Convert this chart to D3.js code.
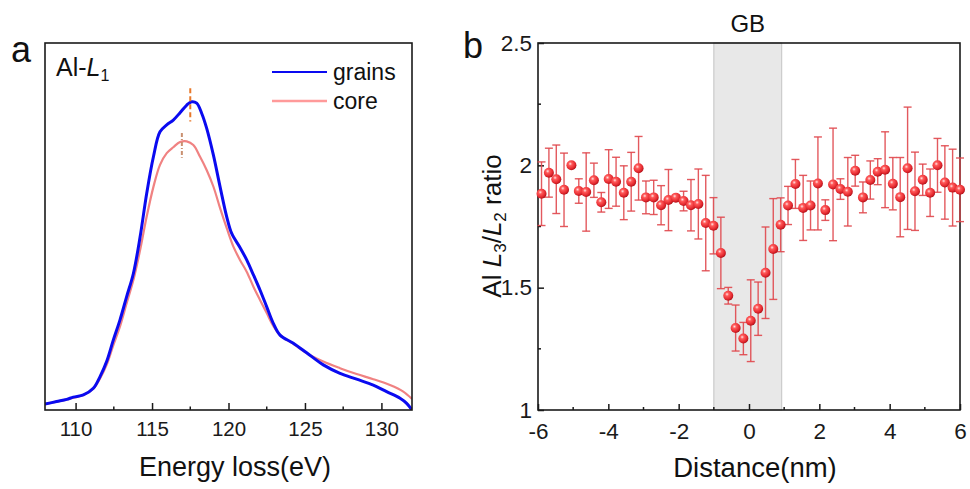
<!DOCTYPE html>
<html><head><meta charset="utf-8">
<script src="https://cdn.jsdelivr.net/npm/d3@7"></script>
<style>
html,body{margin:0;padding:0;background:#fff;}
svg{display:block;font-family:"Liberation Sans",Arial,Helvetica,sans-serif;}
</style></head>
<body>
<svg id="chart" width="970" height="489"></svg>
<script>
// ---------- Panel a data: Al-L1 edge spectra ----------
const grainsE = [108.0,108.76,109.42,109.85,110.51,111.16,111.60,112.03,112.47,112.90,113.34,113.78,114.22,114.65,115.09,115.52,115.96,116.39,116.83,117.27,117.59,117.92,118.25,118.57,119.01,119.45,119.88,120.21,120.75,121.19,121.63,122.06,122.50,122.93,123.37,124.24,125.11,126.20,127.29,128.38,129.47,130.34,131.22,131.65,132.0];
const grainsI = [0.016,0.023,0.029,0.035,0.041,0.059,0.091,0.132,0.191,0.245,0.309,0.372,0.472,0.590,0.690,0.758,0.777,0.790,0.810,0.831,0.840,0.836,0.808,0.768,0.695,0.608,0.527,0.481,0.443,0.409,0.368,0.327,0.281,0.236,0.204,0.182,0.156,0.123,0.100,0.084,0.068,0.050,0.032,0.018,0.0];
const coreE = [108.0,109.42,110.51,111.16,111.60,112.03,112.47,112.90,113.34,113.78,114.22,114.65,115.09,115.52,115.96,116.39,116.83,117.27,117.70,118.14,118.57,119.01,119.45,119.88,120.32,120.75,121.19,121.63,122.06,122.50,122.93,123.37,124.24,125.11,126.20,127.29,128.38,129.47,130.56,131.43,132.0];
const coreI = [0.016,0.029,0.041,0.058,0.086,0.123,0.177,0.227,0.291,0.354,0.436,0.527,0.608,0.668,0.700,0.716,0.730,0.732,0.722,0.690,0.654,0.609,0.550,0.496,0.445,0.409,0.377,0.336,0.300,0.264,0.229,0.204,0.180,0.155,0.132,0.114,0.098,0.084,0.068,0.050,0.030];
const peakE = [117.5, 116.95];
const peakTop = [0.877, 0.755];
const peakBottom = [0.786, 0.687];
const peakColors = ["#e8782a", "#c99070"];
const energyTicks = [110, 115, 120, 125, 130];
const energyMinor = [112.5, 117.5, 122.5, 127.5];
const seriesNames = ["grains", "core"];
const seriesColors = ["#0a0af0", "#f08282"];

// ---------- Panel b data: Al L3/L2 ratio ----------
const distance = [-5.9,-5.69,-5.48,-5.26,-5.05,-4.84,-4.63,-4.41,-4.2,-3.99,-3.78,-3.56,-3.35,-3.14,-2.93,-2.71,-2.5,-2.29,-2.08,-1.86,-1.65,-1.44,-1.23,-1.01,-0.8,-0.59,-0.38,-0.16,0.05,0.26,0.47,0.69,0.9,1.11,1.32,1.54,1.75,1.96,2.17,2.39,2.6,2.81,3.02,3.24,3.45,3.66,3.87,4.09,4.3,4.51,4.72,4.94,5.15,5.36,5.57,5.79,6.0];
const ratio = [1.884,1.970,1.943,1.900,2.000,1.895,1.891,1.939,1.849,1.944,1.933,1.888,1.933,1.988,1.869,1.869,1.837,1.858,1.868,1.854,1.837,1.842,1.764,1.753,1.642,1.467,1.335,1.292,1.365,1.414,1.561,1.658,1.757,1.836,1.924,1.826,1.836,1.926,1.817,1.922,1.903,1.892,1.978,1.869,1.940,1.974,1.982,1.925,1.870,1.988,1.894,1.941,1.888,2.000,1.930,1.909,1.900];
const ratioErr = [0.13,0.10,0.14,0.15,0.008,0.05,0.16,0.07,0.04,0.12,0.10,0.11,0.12,0.13,0.067,0.07,0.08,0.125,0.01,0.04,0.105,0.143,0.195,0.115,0.146,0.034,0.094,0.066,0.167,0.109,0.187,0.206,0.11,0.078,0.10,0.133,0.10,0.19,0.042,0.23,0.042,0.14,0.063,0.063,0.078,0.053,0.155,0.107,0.162,0.25,0.16,0.064,0.097,0.11,0.15,0.157,0.13];
const distTicks = [-6, -4, -2, 0, 2, 4, 6];
const distMinor = [-5, -3, -1, 1, 3, 5];
const ratioTicks = [1, 1.5, 2, 2.5];
const ratioMinor = [1.25, 1.75, 2.25];
const gbRange = [-1, 0.93];

const svg = d3.select("#chart");
const AX = "#1a1a1a";
const FONT = "Liberation Sans, Arial, sans-serif";

// ================= Panel a =================
const ax = {l:45, r:412, t:43, b:410};
const xA = d3.scaleLinear().domain([108, 132]).range([ax.l, ax.r]);
const yA = d3.scaleLinear().domain([0, 1]).range([ax.b, ax.t]);

const gA = svg.append("g");
svg.append("clipPath").attr("id","clipA").append("rect")
  .attr("x", ax.l).attr("y", ax.t).attr("width", ax.r-ax.l).attr("height", ax.b-ax.t);

const line = d3.line().x(d=>xA(d[0])).y(d=>yA(d[1])).curve(d3.curveCatmullRom.alpha(0.5));
const coreData = coreE.map((e,i)=>[e, coreI[i]]);
const grainsData = grainsE.map((e,i)=>[e, grainsI[i]]);
gA.append("path").datum(coreData).attr("d", line).attr("fill","none")
  .attr("stroke", seriesColors[1]).attr("stroke-width", 2.2).attr("clip-path","url(#clipA)");
gA.append("path").datum(grainsData).attr("d", line).attr("fill","none")
  .attr("stroke", seriesColors[0]).attr("stroke-width", 3).attr("clip-path","url(#clipA)");

// peak markers
peakE.forEach((e,i)=>{
  gA.append("line").attr("x1", xA(e)).attr("x2", xA(e))
    .attr("y1", yA(peakTop[i])).attr("y2", yA(peakBottom[i]))
    .attr("stroke", peakColors[i]).attr("stroke-width", 2)
    .attr("stroke-dasharray", i===0 ? "5,3" : "4,2,1,2");
});

// frame
gA.append("rect").attr("x", ax.l).attr("y", ax.t).attr("width", ax.r-ax.l).attr("height", ax.b-ax.t)
  .attr("fill","none").attr("stroke", AX).attr("stroke-width", 1.6);

// x axis (inward ticks)
const xAxisA = d3.axisBottom(xA).tickValues(energyTicks).tickSize(-7).tickPadding(11).tickFormat(d=>String(d));
const gxA = gA.append("g").attr("transform", `translate(0,${ax.b})`).call(xAxisA);
gxA.select(".domain").remove();
gxA.selectAll(".tick line").attr("stroke", AX).attr("stroke-width", 1.5);
gxA.selectAll(".tick text").attr("font-size", 20.5).attr("fill", "#1a1a1a").attr("font-family", FONT);
gA.selectAll(".minorA").data(energyMinor).join("line")
  .attr("x1", d=>xA(d)).attr("x2", d=>xA(d)).attr("y1", ax.b).attr("y2", ax.b-3.5)
  .attr("stroke", AX).attr("stroke-width", 1.5);

gA.append("text").attr("x", 235).attr("y", 476).attr("text-anchor","middle")
  .attr("font-size", 27).attr("fill","#111").text("Energy loss(eV)");

// Al-L1 label
const tAl = gA.append("text").attr("x", 56).attr("y", 76).attr("font-size", 25).attr("fill","#111");
tAl.append("tspan").text("Al-");
tAl.append("tspan").attr("font-style","italic").text("L");
tAl.append("tspan").attr("font-size", 16).attr("dy", 5).text("1");

// legend
seriesNames.forEach((n,i)=>{
  const yy = 72 + i*29;
  gA.append("line").attr("x1", 272).attr("x2", 327).attr("y1", yy).attr("y2", yy)
    .attr("stroke", i===0 ? "#0a0af0" : "#ff9a9a").attr("stroke-width", i===0 ? 2 : 2.4);
  gA.append("text").attr("x", 333).attr("y", yy+8).attr("font-size", 23).attr("fill","#111").text(n);
});

svg.append("text").attr("x", 11).attr("y", 62).attr("font-size", 36).attr("fill","#111").text("a");

// ================= Panel b =================
const bx = {l:538, r:960, t:43, b:410};
const xB = d3.scaleLinear().domain([-6, 6]).range([bx.l, bx.r]);
const yB = d3.scaleLinear().domain([1, 2.5]).range([bx.b, bx.t]);
const gB = svg.append("g");

// GB shaded region
gB.append("rect").attr("x", xB(gbRange[0])).attr("y", bx.t)
  .attr("width", xB(gbRange[1]) - xB(gbRange[0])).attr("height", bx.b-bx.t)
  .attr("fill", "#e8e8e8").attr("stroke", "#c4c4c4").attr("stroke-width", 1);
gB.append("text").attr("x", (xB(gbRange[0])+xB(gbRange[1]))/2).attr("y", 32)
  .attr("text-anchor","middle").attr("font-size", 24).attr("fill","#111").text("GB");

// frame
gB.append("rect").attr("x", bx.l).attr("y", bx.t).attr("width", bx.r-bx.l).attr("height", bx.b-bx.t)
  .attr("fill","none").attr("stroke", AX).attr("stroke-width", 1.6);

// axes
const xAxisB = d3.axisBottom(xB).tickValues(distTicks).tickSize(-6).tickPadding(13).tickFormat(d=>String(d));
const gxB = gB.append("g").attr("transform", `translate(0,${bx.b})`).call(xAxisB);
gxB.select(".domain").remove();
gxB.selectAll(".tick line").attr("stroke", AX).attr("stroke-width", 1.5);
gxB.selectAll(".tick text").attr("font-size", 22.5).attr("fill","#1a1a1a").attr("font-family", FONT);
gB.selectAll(".minorBx").data(distMinor).join("line")
  .attr("x1", d=>xB(d)).attr("x2", d=>xB(d)).attr("y1", bx.b).attr("y2", bx.b-3)
  .attr("stroke", AX).attr("stroke-width", 1.5);

const yAxisB = d3.axisLeft(yB).tickValues(ratioTicks).tickSize(-6).tickPadding(6).tickFormat(d=>String(d));
const gyB = gB.append("g").attr("transform", `translate(${bx.l},0)`).call(yAxisB);
gyB.select(".domain").remove();
gyB.selectAll(".tick line").attr("stroke", AX).attr("stroke-width", 1.5);
gyB.selectAll(".tick text").attr("font-size", 22.5).attr("fill","#1a1a1a").attr("font-family", FONT);
gB.selectAll(".minorBy").data(ratioMinor).join("line")
  .attr("x1", bx.l).attr("x2", bx.l+3).attr("y1", d=>yB(d)).attr("y2", d=>yB(d))
  .attr("stroke", AX).attr("stroke-width", 1.5);

gB.append("text").attr("x", 755).attr("y", 477).attr("text-anchor","middle")
  .attr("font-size", 27.5).attr("fill","#111").text("Distance(nm)");

const yl = gB.append("text").attr("transform", "translate(501,226) rotate(-90)")
  .attr("text-anchor","middle").attr("font-size", 26).attr("fill","#111");
yl.append("tspan").text("Al ");
yl.append("tspan").attr("font-style","italic").text("L");
yl.append("tspan").attr("font-size", 17).attr("dy", 5).text("3");
yl.append("tspan").attr("dy", -5).text("/");
yl.append("tspan").attr("font-style","italic").text("L");
yl.append("tspan").attr("font-size", 17).attr("dy", 5).text("2");
yl.append("tspan").attr("dy", -5).text(" ratio");

svg.append("text").attr("x", 463).attr("y", 58).attr("font-size", 36).attr("fill","#111").text("b");

// gradient for sphere markers
const defs = svg.append("defs");
const grad = defs.append("radialGradient").attr("id","sphere").attr("cx","38%").attr("cy","35%").attr("r","65%");
grad.append("stop").attr("offset","0%").attr("stop-color","#ffe4e4");
grad.append("stop").attr("offset","28%").attr("stop-color","#ff5a5a");
grad.append("stop").attr("offset","75%").attr("stop-color","#e52a30");
grad.append("stop").attr("offset","100%").attr("stop-color","#b5141c");

const pts = distance.map((x,i)=>({x, y: ratio[i], e: ratioErr[i]}));
const eb = gB.append("g").attr("stroke", "#e0474d").attr("stroke-width", 1.4).attr("stroke-opacity", 0.9);
pts.forEach(p=>{
  const cx = xB(p.x);
  eb.append("line").attr("x1", cx).attr("x2", cx).attr("y1", yB(p.y+p.e)).attr("y2", yB(p.y-p.e));
  eb.append("line").attr("x1", cx-4).attr("x2", cx+4).attr("y1", yB(p.y+p.e)).attr("y2", yB(p.y+p.e));
  eb.append("line").attr("x1", cx-4).attr("x2", cx+4).attr("y1", yB(p.y-p.e)).attr("y2", yB(p.y-p.e));
});
gB.selectAll(".pt").data(pts).join("circle")
  .attr("cx", d=>xB(d.x)).attr("cy", d=>yB(d.y)).attr("r", 5)
  .attr("fill", "url(#sphere)");
</script>
</body></html>
